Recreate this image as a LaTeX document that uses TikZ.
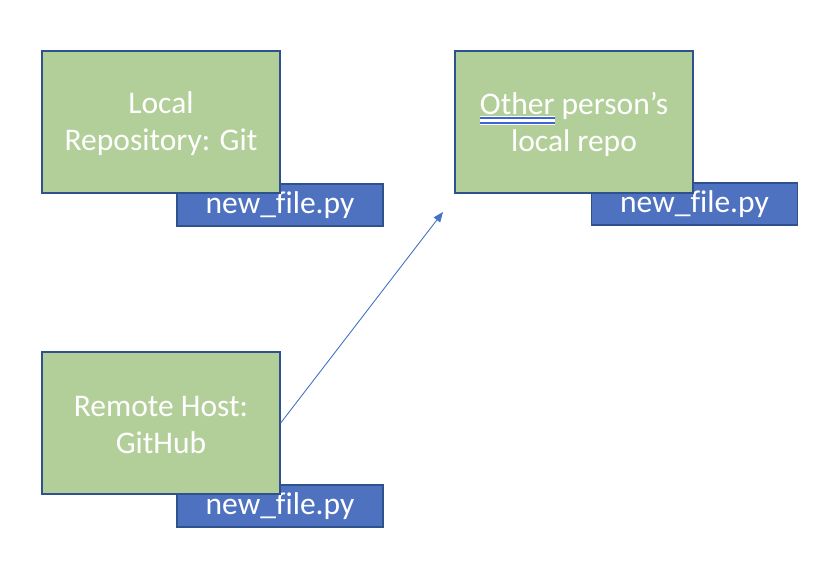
\documentclass[tikz,border=0pt]{standalone}
\usepackage{fontspec}
\setmainfont[Ligatures=NoCommon]{Carlito}
\usetikzlibrary{arrows.meta}
\definecolor{greenfill}{HTML}{B3CF99}
\definecolor{bluefill}{HTML}{4F72C0}
\definecolor{edgeblue}{HTML}{2F528F}
\definecolor{arrowblue}{HTML}{4472C4}
\definecolor{spellblue}{HTML}{3C64D8}
\newsavebox\spellword
\newlength\spellwd
\newcommand\spellmark[1]{\sbox\spellword{#1}\setlength\spellwd{\wd\spellword}\rlap{\color{white}\rule[-10.8pt]{\spellwd}{9pt}}\rlap{\color{spellblue}\rule[-5pt]{\spellwd}{2pt}}\rlap{\color{spellblue}\rule[-10.2pt]{\spellwd}{2.4pt}}\usebox\spellword}
\tikzset{
  repobox/.style={draw=edgeblue, line width=1.4pt, fill=greenfill, minimum width=238pt, minimum height=142pt, inner sep=0pt},
  repotext/.style={align=center, text=white, inner sep=0pt, font=\fontsize{31.5}{37}\selectfont},
  filebox/.style={draw=edgeblue, line width=1.4pt, fill=bluefill, minimum width=206pt, minimum height=42pt, inner sep=0pt, text=white, font=\fontsize{31.5}{35}\selectfont},
  conn/.style={draw=arrowblue, line width=0.9pt, -{Triangle[length=10pt,width=8pt]}}
}
\begin{document}
\begin{tikzpicture}[x=1pt,y=1pt]
\useasboundingbox (0,0) rectangle (828,580);
% file boxes (behind)
\node[filebox] (f1) at (280,375) {new\_file.py};
\node[filebox] (f2) at (694.5,376) {new\_file.py};
\node[filebox] (f3) at (280,74) {new\_file.py};
% repo boxes
\node[repobox, label={[repotext, yshift=-2pt]center:Local\\Repository: Git}] (local) at (161,458) {};
\node[repobox, label={[repotext, yshift=-2pt]center:\spellmark{Other} person’s\\local repo}] (other) at (574,458) {};
\node[repobox, label={[repotext, yshift=-2pt]center:Remote Host:\\GitHub}] (remote) at (161,157) {};
% connector
\coordinate (tip) at (443,368);
\draw[conn] (remote.east) -- (tip);
\end{tikzpicture}
\end{document}
